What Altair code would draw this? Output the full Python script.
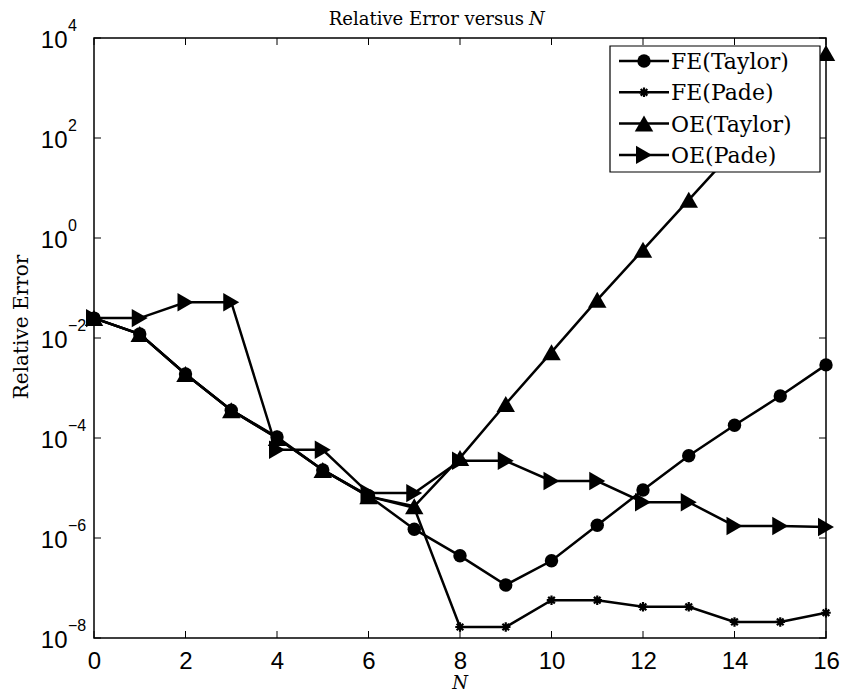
import altair as alt
import pandas as pd

# ---------------- data ----------------
N = list(range(17))
fe_taylor = [2.5e-2, 1.2e-2, 1.9e-3, 3.6e-4, 1.05e-4, 2.3e-5, 7.0e-6, 1.5e-6, 4.4e-7,
             1.15e-7, 3.5e-7, 1.8e-6, 9.1e-6, 4.4e-5, 1.8e-4, 6.9e-4, 2.9e-3]
fe_pade = [2.5e-2, 1.2e-2, 1.9e-3, 3.6e-4, 1.0e-4, 2.3e-5, 6.8e-6, 4.0e-6, 1.66e-8,
           1.66e-8, 5.7e-8, 5.7e-8, 4.2e-8, 4.2e-8, 2.1e-8, 2.1e-8, 3.2e-8]
oe_taylor = [2.5e-2, 1.2e-2, 1.9e-3, 3.6e-4, 1.0e-4, 2.3e-5, 6.8e-6, 4.3e-6, 4.0e-5,
             4.8e-4, 5.2e-3, 5.8e-2, 0.58, 5.8, 58.0, 5.5e2, 5.0e3]
oe_pade = [2.5e-2, 2.5e-2, 5.2e-2, 5.2e-2, 5.8e-5, 5.8e-5, 7.9e-6, 7.9e-6, 3.5e-5,
           3.5e-5, 1.38e-5, 1.38e-5, 5.2e-6, 5.2e-6, 1.74e-6, 1.74e-6, 1.66e-6]

series_names = ["FE(Taylor)", "FE(Pade)", "OE(Taylor)", "OE(Pade)"]
series_values = [fe_taylor, fe_pade, oe_taylor, oe_pade]

x_ticks = list(range(0, 17, 2))
y_exponents = [-8, -6, -4, -2, 0, 2, 4]

title_text = "Relative Error versus"
title_var = "N"
x_title = "N"
y_title = "Relative Error"

# ---------------- build tables ----------------
rows = []
for name, vals in zip(series_names, series_values):
    for n, v in zip(N, vals):
        rows.append({"N": n, "value": v, "series": name})
df = pd.DataFrame(rows)

df_xt = pd.DataFrame({"N": x_ticks})
df_yt = pd.DataFrame({
    "value": [10.0 ** e for e in y_exponents],
    "lab": [("\u2212" + str(-e)) if e < 0 else str(e) for e in y_exponents],
})
one = pd.DataFrame({"a": [0]})

W, H = 732, 600
SERIF = "DejaVu Serif"
SANS = "Liberation Sans"

xs = alt.Scale(domain=[0, 16], nice=False)
ys = alt.Scale(type="log", domain=[1e-8, 1e4], nice=False)

x_axis = alt.Axis(values=x_ticks, title=None, grid=False, ticks=False, tickSize=0,
                  domain=False, labelFont=SANS, labelFontSize=24, labelColor="black",
                  labelPadding=11, labelFlush=False, labelAngle=0, format="d")
y_axis = alt.Axis(values=[10.0 ** e for e in y_exponents], title=None, grid=False,
                  ticks=False, tickSize=0, domain=False, labelExpr="'10'",
                  labelFont=SANS, labelFontSize=24, labelColor="black",
                  labelPadding=27, labelFlush=False, labelOverlap=False,
                  labelBaseline="middle", labelOffset=2)

X = alt.X("N:Q", scale=xs, axis=x_axis)
Y = alt.Y("value:Q", scale=ys, axis=y_axis)

ASTERISK = "M-1,0L1,0M0,-1L0,1M-0.7,-0.7L0.7,0.7M-0.7,0.7L0.7,-0.7"
styles = {
    "FE(Taylor)": dict(shape="circle", size=180, filled=True, strokeWidth=1),
    "FE(Pade)": dict(shape=ASTERISK, size=90, filled=False, strokeWidth=2.2),
    "OE(Taylor)": dict(shape="triangle-up", size=340, filled=True, strokeWidth=1),
    "OE(Pade)": dict(shape="triangle-right", size=340, filled=True, strokeWidth=1),
}

layers = []

# data series: line then markers
for name in series_names:
    base = alt.Chart(df).transform_filter(alt.datum.series == name).encode(x=X, y=Y)
    st = styles[name]
    layers.append(base.mark_line(color="black", strokeWidth=2.5))
    layers.append(base.mark_point(shape=st["shape"], size=st["size"], filled=st["filled"],
                                  color="black", opacity=1, strokeWidth=st["strokeWidth"]))

# inner ticks (MATLAB style)
layers.append(alt.Chart(df_xt).mark_rule(color="black", strokeWidth=1).encode(
    x=X, y=alt.value(H), y2=alt.value(H - 7)))
layers.append(alt.Chart(df_xt).mark_rule(color="black", strokeWidth=1).encode(
    x=X, y=alt.value(0), y2=alt.value(7)))
layers.append(alt.Chart(df_yt).mark_rule(color="black", strokeWidth=1).encode(
    y=Y, x=alt.value(0), x2=alt.value(7)))
layers.append(alt.Chart(df_yt).mark_rule(color="black", strokeWidth=1).encode(
    y=Y, x=alt.value(W - 7), x2=alt.value(W)))

# exponents of the y tick labels
layers.append(alt.Chart(df_yt).mark_text(align="left", baseline="middle", dy=-12,
                                         font=SANS, fontSize=16, color="black").encode(
    y=Y, x=alt.value(-26), text="lab:N"))

# legend (drawn manually: line + marker + text, white box)
LX0, LX1, LY0, LY1 = 516, 726, 8, 134
layers.append(alt.Chart(one).mark_rect(fill="white", stroke="black", strokeWidth=1.2).encode(
    x=alt.value(LX0), x2=alt.value(LX1), y=alt.value(LY0), y2=alt.value(LY1)))
for i, name in enumerate(series_names):
    ly = 23 + 31.3 * i
    st = styles[name]
    layers.append(alt.Chart(one).mark_rule(color="black", strokeWidth=2.5).encode(
        x=alt.value(LX0 + 9), x2=alt.value(LX0 + 59), y=alt.value(ly)))
    layers.append(alt.Chart(one).mark_point(shape=st["shape"], size=st["size"],
                                            filled=st["filled"], color="black", opacity=1,
                                            strokeWidth=st["strokeWidth"]).encode(
        x=alt.value(LX0 + 34), y=alt.value(ly)))
    layers.append(alt.Chart(one).mark_text(align="left", baseline="middle", font=SERIF,
                                           fontSize=22, color="black").encode(
        x=alt.value(LX0 + 61), y=alt.value(ly + 1), text=alt.value(name)))

# title and axis titles
layers.append(alt.Chart(one).mark_text(align="right", baseline="alphabetic", font=SERIF,
                                       fontSize=18, color="black").encode(
    x=alt.value(430), y=alt.value(-13), text=alt.value(title_text)))
layers.append(alt.Chart(one).mark_text(align="left", baseline="alphabetic", font=SERIF,
                                       fontStyle="italic", fontSize=18, color="black").encode(
    x=alt.value(435), y=alt.value(-13), text=alt.value(title_var)))
layers.append(alt.Chart(one).mark_text(align="center", baseline="middle", font=SERIF,
                                       fontStyle="italic", fontSize=18, color="black").encode(
    x=alt.value(W / 2), y=alt.value(H + 46), text=alt.value(x_title)))
layers.append(alt.Chart(one).mark_text(align="center", baseline="middle", font=SERIF,
                                       fontSize=20, angle=270, color="black").encode(
    x=alt.value(-72), y=alt.value(289), text=alt.value(y_title)))

chart = alt.layer(*layers).properties(
    width=W, height=H,
    padding={"left": 86, "top": 30, "right": 14, "bottom": 54},
    autosize=alt.AutoSizeParams(type="none"),
    background="white",
).configure_view(stroke="black", strokeWidth=1.5)

chart.save("out.html", embed_options={"renderer": "svg", "actions": False})
